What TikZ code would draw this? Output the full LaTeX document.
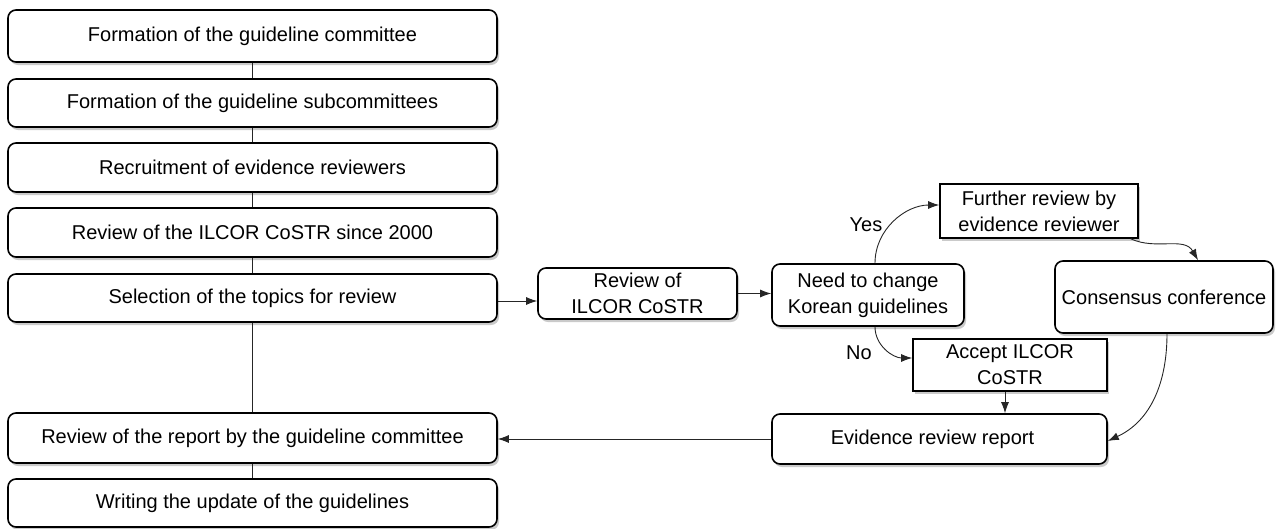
\documentclass[tikz,border=0pt]{standalone}
\usepackage{fontspec}
\setmainfont{Liberation Sans}
\usetikzlibrary{arrows.meta,shadows}
\begin{document}
\begin{tikzpicture}[x=1pt,y=-1pt,
  font=\fontsize{20}{26}\selectfont,
  base/.style={draw=black, line width=1.6pt, fill=white, inner sep=0pt, align=center,
    drop shadow={shadow xshift=2pt, shadow yshift=-3pt, opacity=0.35, fill=black!60}},
  rbox/.style={base, rounded corners=8pt},
  sbox/.style={base},
  conn/.style={line width=0.9pt, draw=black!85},
  arr/.style={conn, -{Latex[length=11pt,width=8pt]}},
  lbl/.style={inner sep=0pt}
]
\useasboundingbox (0,0) rectangle (1278,528);
\node[rbox, minimum width=489pt, minimum height=52pt] (b1) at (252.5,36) {Formation of the guideline committee};
\node[rbox, minimum width=489pt, minimum height=48pt] (b2) at (252.5,103) {Formation of the guideline subcommittees};
\node[rbox, minimum width=489pt, minimum height=49pt] (b3) at (252.5,167.5) {Recruitment of evidence reviewers};
\node[rbox, minimum width=489pt, minimum height=49pt] (b4) at (252.5,232.5) {Review of the ILCOR CoSTR since 2000};
\node[rbox, minimum width=489pt, minimum height=48pt] (b5) at (252.5,298) {Selection of the topics for review};
\node[rbox, minimum width=489pt, minimum height=50pt] (b6) at (252.5,438) {Review of the report by the guideline committee};
\node[rbox, minimum width=489pt, minimum height=48pt] (b7) at (252.5,503) {Writing the update of the guidelines};

\node[rbox, minimum width=199pt, minimum height=51pt] (rev) at (637.5,293.5) {Review of\\ILCOR CoSTR};
\node[rbox, minimum width=192pt, minimum height=62pt] (need) at (868,295) {Need to change\\Korean guidelines};
\node[sbox, minimum width=198pt, minimum height=54pt] (fur) at (1039,211) {Further review by\\evidence reviewer};
\node[sbox, minimum width=194pt, minimum height=52pt] (acc) at (1010,365) {Accept ILCOR\\CoSTR};
\node[rbox, minimum width=218pt, minimum height=72pt] (cons) at (1164,297) {Consensus conference};
\node[rbox, minimum width=335pt, minimum height=50pt] (evid) at (939.5,439) {\hspace*{-14pt}Evidence review report};

\node[lbl] (yes) at (866,225) {Yes};
\node[lbl] (no) at (859,353) {No};

\draw[conn] (b1.south) -- (b2.north);
\draw[conn] (b2.south) -- (b3.north);
\draw[conn] (b3.south) -- (b4.north);
\draw[conn] (b4.south) -- (b5.north);
\draw[conn] (b5.south) -- (b6.north);
\draw[conn] (b6.south) -- (b7.north);

\draw[arr] ([yshift=-3pt]b5.east) -- ([yshift=-3pt]b5.east -| rev.west);
\draw[arr] (rev.east) -- (rev.east -| need.west);
\draw[arr] ([xshift=7pt]need.north) to[out=90,in=180] ([yshift=6pt]fur.west);
\draw[arr] ([xshift=7pt]need.south) to[out=-90,in=180] ([yshift=7pt]acc.west);
\draw[arr] ([xshift=-5pt]acc.south) -- ([xshift=-5pt]acc.south |- evid.north);
\draw[arr] ([xshift=-8pt]fur.south east) to[out=-25,in=120] ([xshift=34pt]cons.north);
\draw[arr] ([xshift=3pt]cons.south) to[out=-90,in=25] ([yshift=-2pt]evid.east);
\draw[arr] (evid.west) -- (evid.west -| b6.east);
\end{tikzpicture}
\end{document}
